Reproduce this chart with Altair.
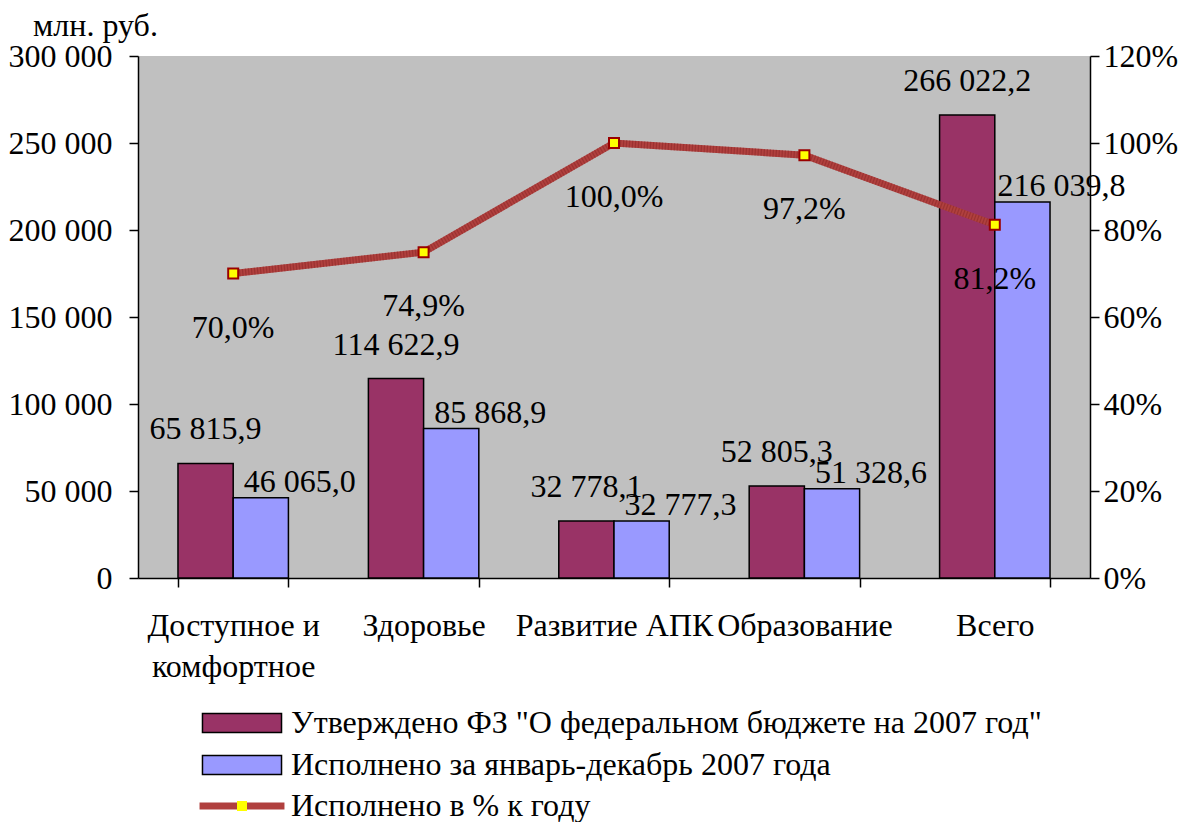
import altair as alt
import pandas as pd

categories = ["Доступное и\nкомфортное", "Здоровье", "Развитие АПК", "Образование", "Всего"]
approved = [65815.9, 114622.9, 32778.1, 52805.3, 266022.2]
executed = [46065.0, 85868.9, 32777.3, 51328.6, 216039.8]
percent = [70.0, 74.9, 100.0, 97.2, 81.2]
series_names = ['Утверждено ФЗ "О федеральном бюджете на 2007 год"',
                "Исполнено за январь-декабрь 2007 года"]
line_name = "Исполнено в % к году"
marker_name = "маркер"
left_ticks = [0, 50000, 100000, 150000, 200000, 250000, 300000]
right_ticks = [0, 0.2, 0.4, 0.6, 0.8, 1.0, 1.2]

FONT = "Liberation Serif, Times New Roman, serif"
FS = 32
BAR_COLORS = ["#993366", "#9999FF"]
LINE_COLOR = "#B0403E"


def ru_num(v):
    return format(v, ",.1f").replace(",", " ").replace(".", ",")


rows = []
for s, vals in zip(series_names, [approved, executed]):
    for c, v in zip(categories, vals):
        rows.append({"category": c, "series": s, "value": v, "label": ru_num(v)})
bars_df = pd.DataFrame(rows)

line_df = pd.DataFrame({
    "category": categories,
    "pct": [p / 100 for p in percent],
    "label": [format(p, ".1f").replace(".", ",") + "%" for p in percent],
    "name": [line_name] * len(categories),
    "marker": [marker_name] * len(categories),
})

x_enc = alt.X(
    "category:N", sort=categories, title=None,
    scale=alt.Scale(paddingInner=0.42, paddingOuter=0.21),
    axis=alt.Axis(labelExpr="datum.value ? split(datum.value, '\\n') : ''", labelAngle=0,
                  tickBand="extent", tickSize=9, tickColor="black", tickWidth=1.5,
                  domainColor="black", domainWidth=1.5, labelPadding=23,
                  labelLineHeight=41, labelFont=FONT, labelFontSize=FS,
                  labelColor="black", grid=False, labelLimit=400),
)
xoff = alt.XOffset("series:N", scale=alt.Scale(domain=series_names))

left_axis = alt.Axis(
    values=left_ticks,
    labelExpr="replace(format(datum.value, ',.0f'), ',', ' ')",
    title="млн. руб.", titleAngle=0, titleX=-43, titleY=-21,
    titleAlign="center", titleBaseline="alphabetic",
    titleFont=FONT, titleFontSize=FS, titleFontWeight="normal", titleColor="black",
    labelFont=FONT, labelFontSize=FS, labelColor="black", labelPadding=17,
    tickSize=9, tickColor="black", tickWidth=1.5,
    domainColor="black", domainWidth=1.5, grid=False,
)
y_left = alt.Y("value:Q", scale=alt.Scale(domain=[0, 300000]), axis=left_axis)

right_axis = alt.Axis(
    values=right_ticks, format=".0%", orient="right", title=None,
    labelFont=FONT, labelFontSize=FS, labelColor="black", labelPadding=4,
    tickSize=9, tickColor="black", tickWidth=1.5,
    domainColor="black", domainWidth=1.5, grid=False,
)
y_right = alt.Y("pct:Q", scale=alt.Scale(domain=[0, 1.2]), axis=right_axis)

# wide legend symbols drawn from a small nominal size so rows stay compact
rect_path = "M-4.16,-1L4.16,-1L4.16,1L-4.16,1Z"
line_path = "M-4.47,0L4.47,0"

bars = alt.Chart(bars_df).mark_bar(stroke="black", strokeWidth=1.5).encode(
    x=x_enc, xOffset=xoff, y=y_left,
    color=alt.Color("series:N", scale=alt.Scale(domain=series_names, range=BAR_COLORS),
                    legend=alt.Legend(orient="none", legendX=88, legendY=651, title=None,
                                      padding=0, symbolType=rect_path, symbolSize=361,
                                      symbolStrokeColor="black", symbolStrokeWidth=1.5,
                                      symbolOpacity=1,
                                      labelFont=FONT, labelFontSize=FS, labelColor="black",
                                      labelOffset=33, labelLimit=1000, rowPadding=10,
                                      direction="vertical")),
)

lab1 = alt.Chart(bars_df).transform_filter(
    alt.datum.series == series_names[0]
).mark_text(font=FONT, fontSize=FS, color="black", baseline="middle", dy=-34).encode(
    x=x_enc, xOffset=xoff, y=y_left, text="label:N"
)
lab2 = alt.Chart(bars_df).transform_filter(
    alt.datum.series == series_names[1]
).mark_text(font=FONT, fontSize=FS, color="black", baseline="middle", dy=-16, dx=39).encode(
    x=x_enc, xOffset=xoff, y=y_left, text="label:N"
)

left = alt.layer(bars, lab1, lab2)

line = alt.Chart(line_df).mark_line(strokeWidth=7).encode(
    x=x_enc, y=y_right,
    stroke=alt.Stroke("name:N", scale=alt.Scale(domain=[line_name], range=[LINE_COLOR]),
                      legend=alt.Legend(orient="none", legendX=88, legendY=734, title=None,
                                        padding=0, symbolType=line_path, symbolSize=361,
                                        symbolStrokeWidth=7, symbolStrokeColor=LINE_COLOR,
                                        labelFont=FONT, labelFontSize=FS, labelColor="black",
                                        labelOffset=33, labelLimit=1000)),
)
line_stripes = alt.Chart(line_df).mark_line(
    strokeWidth=7, color="#8E2A2A", strokeDash=[1.2, 1.8], opacity=0.6
).encode(x=x_enc, y=y_right)

points = alt.Chart(line_df).mark_point(
    filled=True, fill="#FFFF00", stroke="#990000", strokeWidth=2, size=100, opacity=1
).encode(
    x=x_enc, y=y_right,
    shape=alt.Shape("marker:N", scale=alt.Scale(domain=[marker_name], range=["square"]),
                    legend=alt.Legend(orient="none", legendX=88, legendY=734, title=None,
                                      padding=0, symbolSize=100, symbolFillColor="#FFFF00",
                                      symbolStrokeColor="#990000", symbolStrokeWidth=2,
                                      labelExpr="''",
                                      labelFont=FONT, labelFontSize=FS, labelOpacity=0)),
)

pct_labels = alt.Chart(line_df).mark_text(
    font=FONT, fontSize=FS, color="black", baseline="middle", dy=54
).encode(x=x_enc, y=y_right, text="label:N")

right = alt.layer(line, line_stripes, points, pct_labels)

chart = alt.layer(left, right).resolve_scale(
    y="independent", color="independent", stroke="independent", shape="independent"
).properties(
    width=952, height=522,
    autosize=alt.AutoSizeParams(type="none"),
    padding={"left": 130, "top": 48, "right": 94, "bottom": 244},
).configure(font=FONT).configure_view(fill="#C0C0C0", strokeWidth=0)

chart.save("out.html", embed_options={"renderer": "svg", "actions": False})
